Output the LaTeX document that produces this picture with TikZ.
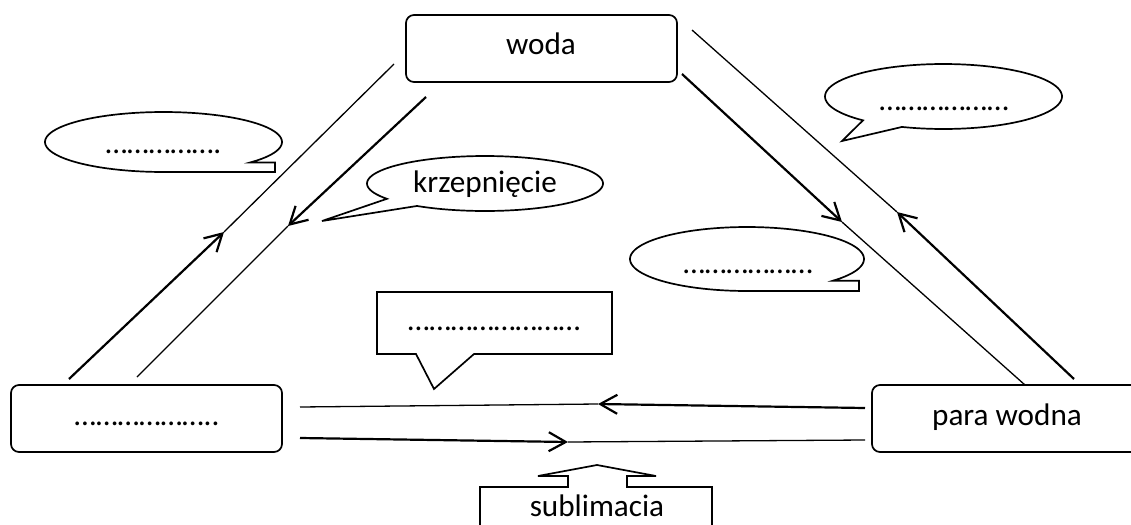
\documentclass[tikz,border=0pt]{standalone}
\usepackage{fontspec}
\setmainfont{Carlito}
\usetikzlibrary{arrows.meta}
\begin{document}
\begin{tikzpicture}[x=0.5pt,y=-0.5pt,
  box/.style={draw, line width=0.85pt, rounded corners=4pt, fill=white, inner sep=0pt},
  lbl/.style={font=\fontsize{15.6pt}{18pt}\selectfont, anchor=base, inner sep=0pt},
  outline/.style={draw, line width=0.85pt, fill=white, line join=miter},
  thickln/.style={line width=1.1pt, -{Straight Barb[length=8.5pt,width=9.5pt]}},
  thinln/.style={line width=0.65pt},
]
\useasboundingbox (0,0) rectangle (1131,525);
\clip (0,0) rectangle (1131,525);

% boxes
\node[box, minimum width=135.5pt, minimum height=33.5pt] (woda) at (541.5,48.5) {};
\node[box, minimum width=135.5pt, minimum height=33.5pt] (lod) at (146.5,418.5) {};
\node[box, minimum width=135pt, minimum height=33.5pt] (para) at (1007,418.5) {};

% callouts
\draw[outline] plot[domain=90:403, samples=100] ({163.5+118.5*cos(\x)},{142+30*sin(\x)}) -- (275,162.5) -- (275,172) -- cycle;
\draw[outline] plot[domain=146.2:485.2, samples=100] ({485+118*cos(\x)},{183.5+27.5*sin(\x)}) -- (322,221) -- cycle;
\draw[outline] plot[domain=90:402.6, samples=100] ({747+117*cos(\x)},{259+32*sin(\x)}) -- (859,280.7) -- (859,291) -- cycle;
\draw[outline] plot[domain=132.8:470.5, samples=100] ({943.5+118.5*cos(\x)},{96.5+32.5*sin(\x)}) -- (842,141) -- cycle;
\draw[outline] (377,292) -- (612,292) -- (612,354) -- (474,354) -- (434,389) -- (416,354) -- (377,354) -- cycle;
\draw[outline] (480,545) -- (480,487) -- (568,487) -- (568,476) -- (538,476) -- (597,465) -- (656,476) -- (627,476) -- (627,487) -- (712,487) -- (712,545);

% texts
\node[lbl] (twoda) at (541,54.5) {woda};
\node[lbl] (tlod) at (147,425.5) {………………..};
\node[lbl] (tpara) at (1007,425.5) {para wodna};
\node[lbl] (tkrz) at (485,192.5) {krzepnięcie};
\node[lbl] (tA) at (163.5,153.5) {…………….};
\node[lbl] (tC) at (748,273.5) {………………};
\node[lbl] (tD) at (944,110.5) {………………};
\node[lbl] (tE) at (494,330.5) {……………………};
\node[lbl] (tF) at (597,516.5) {sublimacia};

% connectors
\coordinate (a1) at (69,379);  \coordinate (m1) at (224,232); \coordinate (b1) at (394,64);
\coordinate (a2) at (426,97);  \coordinate (m2) at (288,226); \coordinate (b2) at (137,377);
\coordinate (a3) at (1074,379);\coordinate (m3) at (897,212); \coordinate (b3) at (692,30);
\coordinate (a4) at (682,74);  \coordinate (m4) at (842,222); \coordinate (b4) at (1025,385);
\coordinate (a5) at (865,408); \coordinate (m5) at (598,404); \coordinate (b5) at (300,407);
\coordinate (a6) at (300,438); \coordinate (m6) at (568,442); \coordinate (b6) at (865,440);

\draw[thickln] (a1) -- (m1); \draw[thinln] (m1) -- (b1);
\draw[thickln] (a2) -- (m2); \draw[thinln] (m2) -- (b2);
\draw[thickln] (a3) -- (m3); \draw[thinln] (m3) -- (b3);
\draw[thickln] (a4) -- (m4); \draw[thinln] (m4) -- (b4);
\draw[thickln] (a5) -- (m5); \draw[thinln] (m5) -- (b5);
\draw[thickln] (a6) -- (m6); \draw[thinln] (m6) -- (b6);
\end{tikzpicture}
\end{document}
